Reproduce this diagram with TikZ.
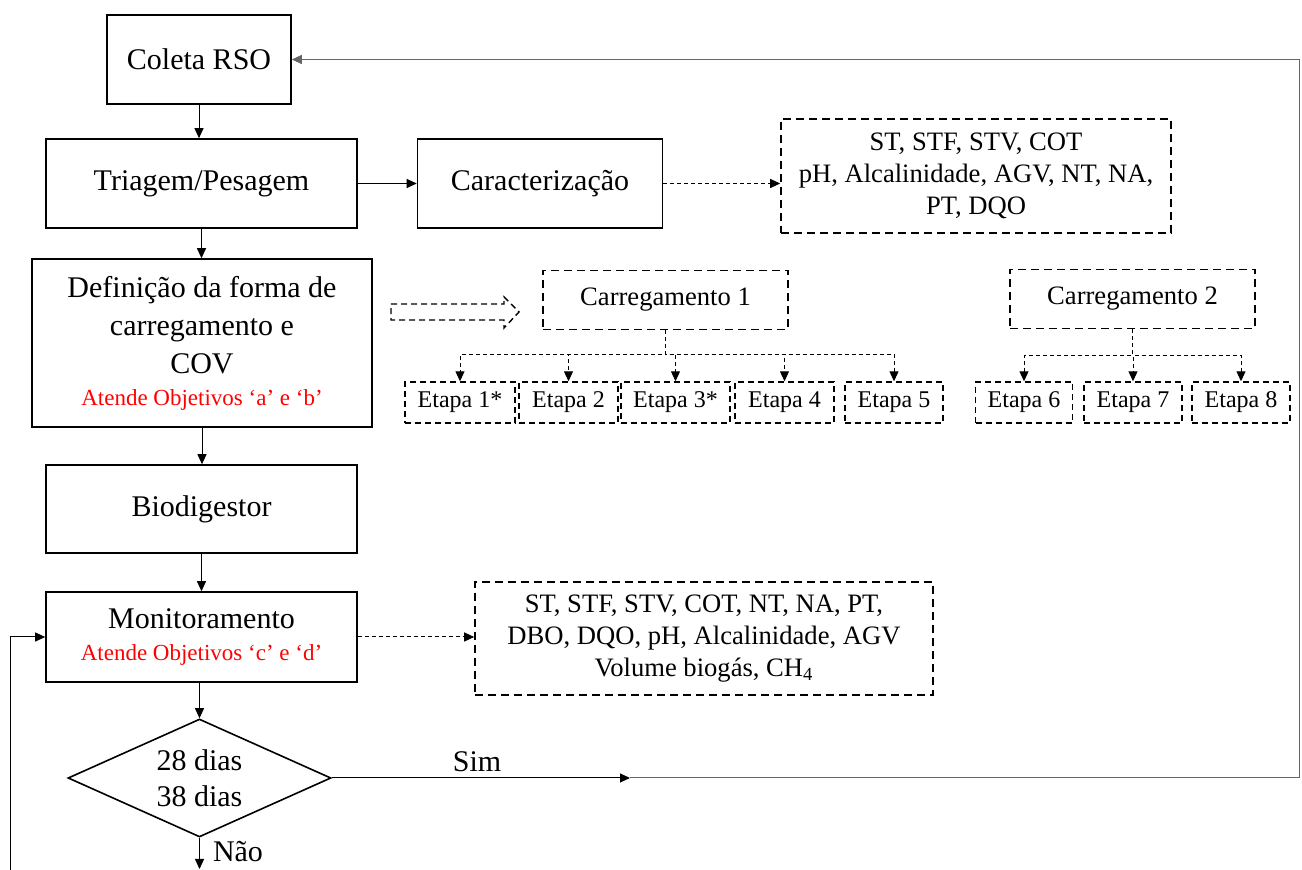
\documentclass[tikz,border=0pt]{standalone}
\usepackage{fontspec}
\setmainfont{Liberation Serif}
\usepackage{tikz}
\usetikzlibrary{arrows.meta, shapes.geometric}

\newcommand{\objetivo}[1]{{\color{red}\fontsize{11.5}{13}\selectfont #1}}

\begin{document}
\begin{tikzpicture}[x=0.5pt, y=-0.5pt,
    font=\fontsize{15}{19}\selectfont,
    caixa/.style={draw, line width=0.8pt, align=center, inner sep=2pt},
    caixatrac/.style={draw, line width=0.8pt, dash pattern=on 4pt off 2.5pt, align=center,
        font=\fontsize{13.3}{16}\selectfont, inner sep=2pt},
    etapa/.style={draw, line width=0.7pt, dash pattern=on 3pt off 2pt, minimum height=20.5pt,
        font=\fontsize{12}{14}\selectfont, inner sep=1pt},
    seta/.style={line width=0.5pt, -{Triangle[length=5pt, width=4.5pt]}},
    setapont/.style={seta, dash pattern=on 2pt off 1.5pt},
    setacinza/.style={seta, black!60}]
    \useasboundingbox (0,0) rectangle (1302,870);

    % fluxo principal
    \node[caixa, minimum width=92pt, minimum height=44.5pt] (coleta) at (199,59.5) {Coleta RSO};
    \node[caixa, minimum width=155.5pt, minimum height=44.5pt] (triagem) at (201.5,183.5) {Triagem/Pesagem};
    \node[caixa, minimum width=122.5pt, minimum height=44.5pt] (carac) at (540,183.5) {Caracterização};
    \node[caixa, minimum width=170pt, minimum height=84pt] (definicao) at (202,343)
        {Definição da forma de\\carregamento e\\COV\\[-3pt]\objetivo{Atende Objetivos ‘a’ e ‘b’}};
    \node[caixa, minimum width=155.5pt, minimum height=44pt] (biodig) at (201.5,509) {Biodigestor};
    \node[caixa, minimum width=155.5pt, minimum height=45pt] (monit) at (201.5,637)
        {Monitoramento\\[-3pt]\objetivo{Atende Objetivos ‘c’ e ‘d’}};
    \node[diamond, draw, line width=0.8pt, aspect=2.2, inner sep=0pt, align=center,
        minimum width=131.5pt, minimum height=59pt] (decisao) at (199.5,778) {28 dias\\[-1pt]38 dias};

    % parametros
    \node[caixatrac, minimum width=195pt, minimum height=57pt] (param1) at (976,176)
        {ST, STF, STV, COT\\pH, Alcalinidade, AGV, NT, NA,\\PT, DQO};
    \node[caixatrac, minimum width=229pt, minimum height=56.5pt] (param2) at (704,638.5)
        {ST, STF, STV, COT, NT, NA, PT,\\DBO, DQO, pH, Alcalinidade, AGV\\Volume biogás, CH\textsubscript{4}};

    % carregamentos
    \node[caixatrac, font=\fontsize{13.3}{16}\selectfont, minimum width=122.5pt, minimum height=29.5pt] (carreg1) at (665.5,300) {Carregamento 1};
    \node[caixatrac, font=\fontsize{13.3}{16}\selectfont, minimum width=122.5pt, minimum height=29.5pt] (carreg2) at (1132.5,299) {Carregamento 2};
    \node[etapa, minimum width=55pt] (e1) at (460,402.5) {Etapa 1*};
    \node[etapa, minimum width=49.5pt] (e2) at (568.5,402.5) {Etapa 2};
    \node[etapa, minimum width=54.5pt] (e3) at (675.5,402.5) {Etapa 3*};
    \node[etapa, minimum width=49.5pt] (e4) at (784.5,402.5) {Etapa 4};
    \node[etapa, minimum width=49pt] (e5) at (894,402.5) {Etapa 5};
    \node[etapa, minimum width=48.5pt] (e6) at (1024,402.5) {Etapa 6};
    \node[etapa, minimum width=49pt] (e7) at (1133,402.5) {Etapa 7};
    \node[etapa, minimum width=49pt] (e8) at (1241,402.5) {Etapa 8};

    % seta tracejada vazada
    \draw[line width=0.7pt, dash pattern=on 3pt off 2pt]
        (391,304) -- (504,304) -- (504,297) -- (519,312) -- (504,328) -- (504,320) -- (391,320) -- cycle;

    % ligacoes
    \draw[seta] (coleta.south) -- (coleta.south |- triagem.north);
    \draw[seta] (triagem.south) -- (triagem.south |- definicao.north);
    \draw[seta] (definicao.south) -- (definicao.south |- biodig.north);
    \draw[seta] (biodig.south) -- (biodig.south |- monit.north);
    \draw[seta] (decisao.north |- monit.south) -- (decisao.north);
    \draw[seta] (triagem.east) -- (carac.west);
    \draw[setapont] (carac.east) -- (carac.east -| param1.west);
    \draw[setapont] (monit.east) -- (monit.east -| param2.west);
    \foreach \e in {e1,e2,e3,e4,e5}
        \draw[setapont] (carreg1.south) -- ++(0,-12pt) -| (\e.north);
    \foreach \e in {e6,e7,e8}
        \draw[setapont] (carreg2.south) -- ++(0,-13pt) -| (\e.north);

    % decisao
    \coordinate (sim) at (630,778);
    \coordinate (canto) at (1299,778);
    \coordinate (fim) at (199.5,869);
    \coordinate (volta) at (10,870);
    \draw[seta] (decisao.east) -- (sim);
    \draw[setacinza] (sim) -- (canto) |- (coleta.east);
    \node (rotsim) at (477,762) {Sim};
    \draw[seta] (decisao.south) -- (fim);
    \node (rotnao) at (238,852) {Não};
    \draw[seta] (volta) |- (monit.west);
\end{tikzpicture}
\end{document}
